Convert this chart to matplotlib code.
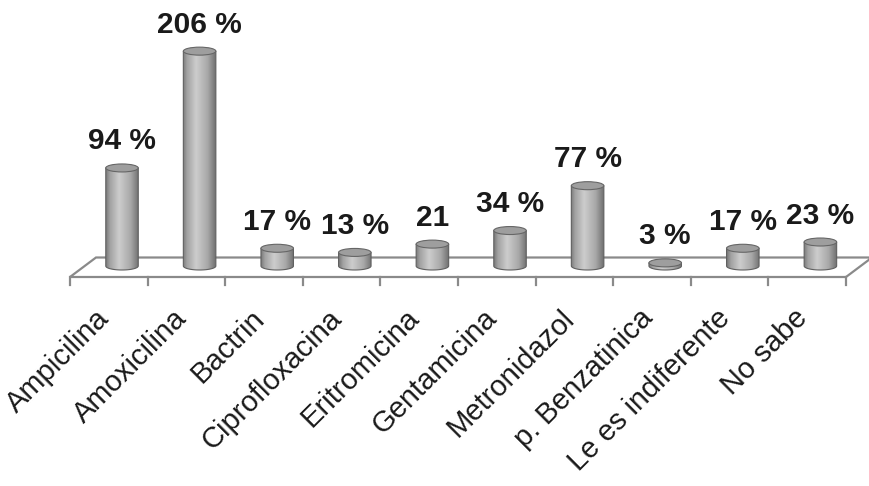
import numpy as np
import matplotlib
matplotlib.use("Agg")
import matplotlib.pyplot as plt
from matplotlib.path import Path
from matplotlib.patches import PathPatch, Ellipse, Polygon
from matplotlib.colors import LinearSegmentedColormap
import matplotlib.transforms as mtransforms

categories = ["Ampicilina", "Amoxicilina", "Bactrin", "Ciprofloxacina", "Eritromicina",
              "Gentamicina", "Metronidazol", "p. Benzatinica", "Le es indiferente", "No sabe"]
values = [94, 206, 17, 13, 21, 34, 77, 3, 17, 23]
value_labels = ["94 %", "206 %", "17 %", "13 %", "21", "34 %", "77 %", "3 %", "17 %", "23 %"]

plt.rcParams['font.family'] = ['Liberation Sans', 'DejaVu Sans']

fig = plt.figure(figsize=(8.7, 4.86), dpi=100)
ax = fig.add_axes([0, 0, 1, 1])
ax.set_axis_off()

# scale: x unit = 77.6 px, y unit = 1.043 px
XU, YU = 77.6, 1.043
xlim = (-108.8 / XU, (870 - 108.8) / XU)
ylim = ((266 - 486) / YU, 266 / YU)

front_y = (266 - 277) / YU
back_y = (266 - 257.5) / YU
depth_dx = 26 / XU
n = len(categories)

floor = Polygon([(-0.5, front_y), (n - 0.5, front_y), (n - 0.5 + depth_dx, back_y),
                 (-0.5 + depth_dx, back_y)], closed=True, facecolor='white',
                edgecolor='#8a8a8a', lw=1.6, zorder=1)
ax.add_patch(floor)
for k in range(n + 1):
    ax.plot([k - 0.5, k - 0.5], [front_y, front_y - 8 / YU], color='#8a8a8a', lw=1.6, zorder=1)

cmap = LinearSegmentedColormap.from_list('cyl', [(0, '#7a7a7a'), (0.12, '#a2a2a2'), (0.4, '#cdcdcd'),
                                                  (0.75, '#a8a8a8'), (1, '#6e6e6e')])
grad = np.linspace(0, 1, 256).reshape(1, -1)

w = 32.5 / XU
b = 4.0 / YU
off = 13.2 / XU
for i, v in enumerate(values):
    xc = i + off
    x0, x1 = xc - w / 2, xc + w / 2
    t = np.linspace(np.pi, 2 * np.pi, 40)
    verts = [(x0, v)] + [(xc + w / 2 * np.cos(tt), b * np.sin(tt)) for tt in t] + [(x1, v), (x0, v)]
    codes = [Path.MOVETO] + [Path.LINETO] * (len(verts) - 2) + [Path.CLOSEPOLY]
    path = Path(verts, codes)
    body = PathPatch(path, facecolor='none', edgecolor='#606060', lw=0.8, zorder=3)
    ax.add_patch(body)
    im = ax.imshow(grad, extent=[x0, x1, -b, v], aspect='auto', cmap=cmap, zorder=2,
                   interpolation='bilinear')
    im.set_clip_path(body)
    top = Ellipse((xc, v), w, 2 * b, facecolor='#9e9e9e', edgecolor='#666666', lw=0.8, zorder=4)
    ax.add_patch(top)
    ax.annotate(value_labels[i], xy=(xc, v), xytext=(0, 9), textcoords='offset points',
                ha='center', va='bottom', fontsize=21.5, fontweight='bold', color='#1a1a1a', zorder=5)

lab_tr = mtransforms.offset_copy(ax.transData, fig=fig, x=6, y=-27, units='dots')
for i, c in enumerate(categories):
    ax.text(i, front_y, c, transform=lab_tr, rotation=45, ha='right', va='top',
            fontsize=21, color='#1a1a1a', rotation_mode='default')

ax.set_xlim(*xlim)
ax.set_ylim(*ylim)
fig.savefig('out.png', dpi=100)
